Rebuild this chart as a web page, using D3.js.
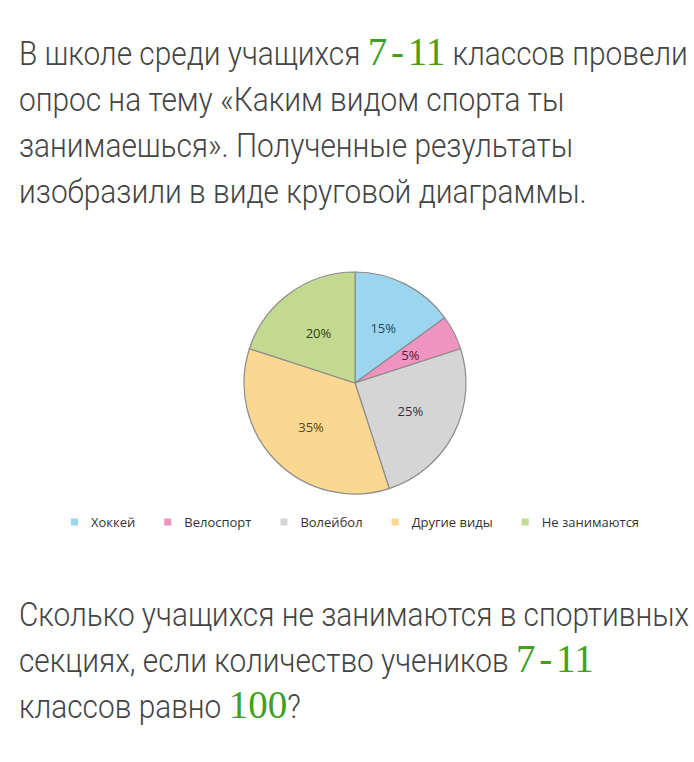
<!DOCTYPE html>
<html>
<head>
<meta charset="utf-8">
<script src="https://cdn.jsdelivr.net/npm/d3@7"></script>
<style>
  body { margin: 0; background: #fff; }
</style>
</head>
<body>
<div class="canvas"></div>
<script>
const categories = ['Хоккей', 'Велоспорт', 'Волейбол', 'Другие виды', 'Не занимаются']
const shares = [15, 5, 25, 35, 20]
const sliceColors = ['#9bd5ee', '#ef94c1', '#d5d5d5', '#fbd892', '#c4d990']
const labelColors = ['#1d4a5f', '#5a1a3b', '#333333', '#5b4414', '#2f3f18']

// each segment: [text, isGreenNumber]
const introLines = [
  [['В школе среди учащихся ', false], ['7 - 11', true], [' классов провели', false]],
  [['опрос на тему «Каким видом спорта ты', false]],
  [['занимаешься». Полученные результаты', false]],
  [['изобразили в виде круговой диаграммы.', false]]
]
const questionLines = [
  [['Сколько учащихся не занимаются в спортивных', false]],
  [['секциях, если количество учеников ', false], ['7 - 11', true]],
  [['классов равно ', false], ['100', true], ['?', false]]
]

const width = 694
const height = 762
const textLeft = 19
const lineOneRight = 688
const pieCenter = { x: 355, y: 383 }
const radius = 111

const svg = d3.select('.canvas')
  .append('svg')
  .attr('width', width)
  .attr('height', height)

function styleSegment(sel, green) {
  if (green) {
    sel.attr('font-family', '"Liberation Serif", serif')
      .attr('font-size', 39)
      .attr('fill', '#41a01f')
      .attr('word-spacing', -6)
  } else {
    sel.attr('font-family', 'Roboto, sans-serif')
      .attr('font-size', 34)
      .attr('font-weight', 300)
      .attr('fill', '#444')
  }
  return sel.style('white-space', 'pre')
}

function measure(text, green) {
  const t = styleSegment(svg.append('text').text(text), green)
  const w = t.node().getComputedTextLength()
  t.remove()
  return w
}

// squeeze the sans text so the first line fits like the condensed original
let plainWidth = 0
let greenWidth = 0
introLines[0].forEach(([text, green]) => {
  if (green) greenWidth += measure(text, true)
  else plainWidth += measure(text, false)
})
const squeeze = (lineOneRight - textLeft - greenWidth) / plainWidth

function drawLines(lines, firstBaseline, step) {
  lines.forEach((line, i) => {
    const y = firstBaseline + i * step
    let x = textLeft
    line.forEach(([text, green]) => {
      const w = measure(text, green)
      const sx = green ? 1 : squeeze
      styleSegment(svg.append('text').text(text), green)
        .attr('transform', `translate(${x}, ${y}) scale(${sx}, 1)`)
      x += w * sx
    })
  })
}

drawLines(introLines, 65, 46)
drawLines(questionLines, 626, 46)

// pie
const pie = d3.pie().sort(null).value(d => d)
const arcs = pie(shares)
const arc = d3.arc().innerRadius(0).outerRadius(radius)
const labelArc = d3.arc().innerRadius(radius * 0.56).outerRadius(radius * 0.56)

const pieGroup = svg.append('g')
  .attr('transform', `translate(${pieCenter.x}, ${pieCenter.y})`)

pieGroup.selectAll('path')
  .data(arcs)
  .enter()
  .append('path')
  .attr('d', arc)
  .attr('fill', (d, i) => sliceColors[i])
  .attr('stroke', '#8c8c8c')
  .attr('stroke-width', 1.2)

pieGroup.selectAll('text')
  .data(arcs)
  .enter()
  .append('text')
  .attr('transform', d => `translate(${labelArc.centroid(d)})`)
  .attr('text-anchor', 'middle')
  .attr('dominant-baseline', 'central')
  .attr('font-family', '"Open Sans", sans-serif')
  .attr('font-size', 13)
  .attr('fill', (d, i) => labelColors[i])
  .text(d => `${d.data}%`)

// legend, centred under the pie
const legendY = 522
const swatch = 7
const swatchGap = 13
const itemGap = 29
const legendFont = 13
const legendWidths = categories.map(c => {
  const t = svg.append('text')
    .attr('font-family', '"Open Sans", sans-serif')
    .attr('font-size', legendFont)
    .text(c)
  const w = t.node().getComputedTextLength()
  t.remove()
  return w
})
const legendTotal = d3.sum(legendWidths) + categories.length * (swatch + swatchGap) + (categories.length - 1) * itemGap
let legendX = pieCenter.x - legendTotal / 2

const legend = svg.append('g')
categories.forEach((c, i) => {
  legend.append('rect')
    .attr('x', legendX)
    .attr('y', legendY - swatch / 2)
    .attr('width', swatch)
    .attr('height', swatch)
    .attr('fill', sliceColors[i])
  legend.append('text')
    .attr('x', legendX + swatch + swatchGap)
    .attr('y', legendY)
    .attr('dominant-baseline', 'central')
    .attr('font-family', '"Open Sans", sans-serif')
    .attr('font-size', legendFont)
    .attr('fill', '#333')
    .text(c)
  legendX += swatch + swatchGap + legendWidths[i] + itemGap
})
</script>
</body>
</html>
